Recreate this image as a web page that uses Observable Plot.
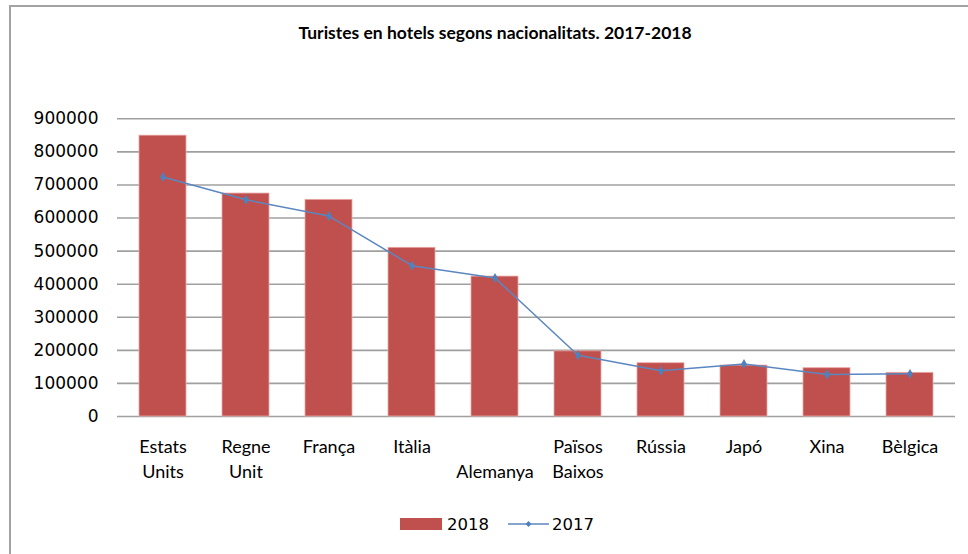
<!DOCTYPE html>
<html>
<head>
<meta charset="utf-8">
<script src="https://cdn.jsdelivr.net/npm/d3@7"></script>
<script src="https://cdn.jsdelivr.net/npm/@observablehq/plot@0.6"></script>
<style>
  html, body { margin: 0; padding: 0; background: #fff; }
  #wrap { position: relative; width: 968px; height: 554px; overflow: hidden; background: #fff; }
  #frame { position: absolute; left: 9px; top: 5px; width: 980px; height: 600px;
           border-top: 2px solid #a3a3a3; border-left: 2px solid #a3a3a3; box-sizing: border-box; }
  #title { position: absolute; left: 495px; top: 32px; transform: translate(-50%, -50%);
           font-family: Lato, "Open Sans", sans-serif; font-weight: bold; font-size: 17.5px;
           color: #000; white-space: nowrap; }
  #chart { position: absolute; left: 0; top: 0; }
  .legend { position: absolute; top: 512px; height: 24px; display: flex; align-items: center;
            font-family: "DejaVu Sans", sans-serif; font-size: 16.5px; color: #000; }
</style>
</head>
<body>
<div id="wrap">
  <div id="frame"></div>
  <div id="title">Turistes en hotels segons nacionalitats. 2017-2018</div>
  <div id="chart"></div>
  <div class="legend" id="leg18" style="left:400px;">
    <svg width="42" height="14" style="margin-right:5px"><rect x="0" y="1" width="42" height="12" fill="#c0504d"/></svg><span>2018</span>
  </div>
  <div class="legend" id="leg17" style="left:508px;">
    <svg width="41" height="14" style="margin-right:3px"><line x1="0" y1="7" x2="41" y2="7" stroke="#5b87c0" stroke-width="1.5"/><path d="M20.5,4 L23.5,7 L20.5,10 L17.5,7 Z" fill="#4f81bd"/></svg><span>2017</span>
  </div>
</div>
<script>
const categories = ["Estats Units", "Regne Unit", "França", "Itàlia", "Alemanya", "Països Baixos", "Rússia", "Japó", "Xina", "Bèlgica"];
const labels = ["Estats\nUnits", "Regne\nUnit", "França", "Itàlia", "\nAlemanya", "Països\nBaixos", "Rússia", "Japó", "Xina", "Bèlgica"];
const values2018 = [849000, 674000, 655000, 510000, 423000, 197000, 161000, 154000, 146000, 132000];
const values2017 = [724000, 655000, 606000, 456000, 419000, 185000, 138000, 159000, 127000, 129000];
const yTicks = [0, 100000, 200000, 300000, 400000, 500000, 600000, 700000, 800000, 900000];

const data = categories.map((c, i) => ({cat: c, label: labels[i], v2018: values2018[i], v2017: values2017[i]}));

const chart = Plot.plot({
  width: 968,
  height: 554,
  marginLeft: 117,
  marginRight: 13,
  marginTop: 118.3,
  marginBottom: 138,
  style: {background: "transparent", fontFamily: "DejaVu Sans, sans-serif", fontSize: "17px", color: "#000"},
  x: {domain: categories, paddingInner: 0.4286, paddingOuter: 0.2143, axis: null},
  y: {domain: [0, 900000], axis: null},
  marks: [
    Plot.gridY(yTicks, {stroke: "#a0a0a0", strokeOpacity: 1, strokeWidth: 1.6}),
    Plot.axisY(yTicks, {tickSize: 0, tickPadding: 19, tickFormat: d => String(d), fontSize: 17, fill: "#000"}),
    Plot.barY(data, {x: "cat", y: "v2018", fill: "#c0504d", stroke: "#e8a8a6", strokeWidth: 0.8}),
    Plot.line(data, {x: "cat", y: "v2017", stroke: "#5b87c0", strokeWidth: 1.5}),
    Plot.dot(data, {x: "cat", y: "v2017", symbol: "diamond", r: 3, fill: "#4f81bd", stroke: "none"}),
    Plot.text(data, {x: "cat", text: "label", frameAnchor: "bottom", lineAnchor: "top", dy: 19,
                     lineHeight: 1.39, fontSize: 18, fontFamily: "Lato, 'Open Sans', sans-serif", fill: "#000"})
  ]
});
document.getElementById("chart").appendChild(chart);
</script>
</body>
</html>
